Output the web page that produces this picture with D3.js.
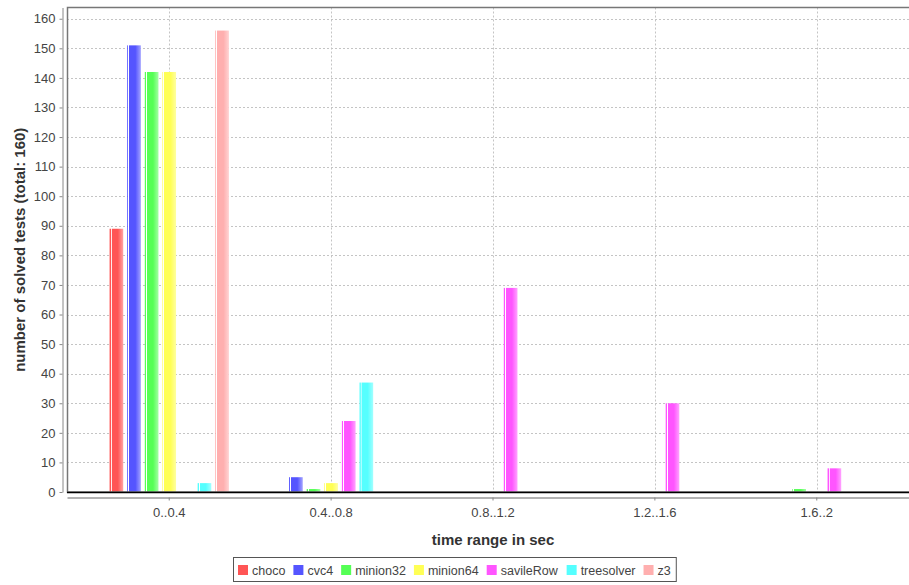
<!DOCTYPE html>
<html>
<head>
<meta charset="utf-8">
<script src="https://d3js.org/d3.v7.min.js"></script>
<style>
  body { margin: 0; background: #fff; }
  text { font-family: "Liberation Sans", Arial, sans-serif; }
</style>
</head>
<body>
<script>
// data
var categories = ["0..0.4", "0.4..0.8", "0.8..1.2", "1.2..1.6", "1.6..2"];
var solvers = ["choco", "cvc4", "minion32", "minion64", "savileRow", "treesolver", "z3"];
var colors = ["#ff5555", "#5555ff", "#55ff55", "#ffff55", "#ff55ff", "#55ffff", "#ffafaf"];
var choco      = [89, 0, 0, 0, 0];
var cvc4       = [151, 5, 0, 0, 0];
var minion32   = [142, 1, 0, 0, 1];
var minion64   = [142, 3, 0, 0, 0];
var savileRow  = [0, 24, 69, 30, 8];
var treesolver = [3, 37, 0, 0, 0];
var z3         = [156, 0, 0, 0, 0];
var yTicks = [0, 10, 20, 30, 40, 50, 60, 70, 80, 90, 100, 110, 120, 130, 140, 150, 160];

var series = [choco, cvc4, minion32, minion64, savileRow, treesolver, z3];

var W = 909, H = 585;
var plot = {left: 67, right: 919, top: 7.5, bottom: 492};

var svg = d3.select("body").append("svg")
    .attr("width", W)
    .attr("height", H);

// bar gradients (shaded bar look)
var defs = svg.append("defs");
colors.forEach(function(c, i) {
    var g = defs.append("linearGradient").attr("id", "grad" + i)
        .attr("x1", 0).attr("x2", 1).attr("y1", 0).attr("y2", 0);
    var light = d3.interpolateRgb(c, "#ffffff")(0.4);
    [[0, c], [0.07, c], [0.08, "#ffffff"], [0.14, "#ffffff"], [0.15, c],
     [0.6, c], [0.95, light], [1, light]].forEach(function(s) {
        g.append("stop").attr("offset", s[0]).attr("stop-color", s[1]);
    });
});

var x = d3.scaleBand()
    .domain(categories)
    .range([plot.left, plot.right])
    .paddingInner(0.263)
    .paddingOuter(0.263);

var xs = d3.scaleBand()
    .domain(d3.range(solvers.length))
    .range([0, x.bandwidth()])
    .paddingInner(0.226);

var y = d3.scaleLinear()
    .domain([0, 163.8])
    .range([plot.bottom, plot.top]);

defs.append("clipPath").attr("id", "plotclip")
    .append("rect")
    .attr("x", plot.left).attr("y", plot.top)
    .attr("width", W - plot.left).attr("height", plot.bottom - plot.top);

var plotG = svg.append("g").attr("clip-path", "url(#plotclip)");

// gridlines
plotG.append("g").selectAll("line")
    .data(yTicks)
    .enter().append("line")
    .attr("x1", plot.left).attr("x2", W)
    .attr("y1", function(d) { return Math.round(y(d)) + 0.5; })
    .attr("y2", function(d) { return Math.round(y(d)) + 0.5; })
    .attr("stroke", "#c4c4c4")
    .attr("stroke-dasharray", "2,2");

plotG.append("g").selectAll("line")
    .data(categories)
    .enter().append("line")
    .attr("x1", function(d) { return Math.round(x(d) + x.bandwidth() / 2) + 0.5; })
    .attr("x2", function(d) { return Math.round(x(d) + x.bandwidth() / 2) + 0.5; })
    .attr("y1", plot.top).attr("y2", plot.bottom)
    .attr("stroke", "#c4c4c4")
    .attr("stroke-dasharray", "2,2");

// bars
series.forEach(function(vals, si) {
    plotG.append("g").selectAll("rect")
        .data(vals.map(function(v, ci) { return {cat: categories[ci], v: v}; })
                  .filter(function(d) { return d.v > 0; }))
        .enter().append("rect")
        .attr("x", function(d) { return x(d.cat) + xs(si); })
        .attr("width", xs.bandwidth())
        .attr("y", function(d) { return y(d.v); })
        .attr("height", function(d) { return plot.bottom - y(d.v); })
        .attr("fill", "url(#grad" + si + ")");
});

// plot frame
svg.append("rect")
    .attr("x", plot.left + 0.5).attr("y", plot.top)
    .attr("width", plot.right - plot.left).attr("height", plot.bottom - plot.top)
    .attr("fill", "none")
    .attr("stroke", "#777")
    .attr("stroke-width", 1.5);
svg.append("line")
    .attr("x1", plot.left).attr("x2", W)
    .attr("y1", plot.bottom + 0.5).attr("y2", plot.bottom + 0.5)
    .attr("stroke", "#000").attr("stroke-width", 1.5);

// y axis
var yAxis = svg.append("g")
    .attr("transform", "translate(62.5,0)")
    .call(d3.axisLeft(y).tickValues(yTicks).tickSize(3).tickSizeOuter(0).tickPadding(4));
yAxis.select(".domain").attr("stroke", "#888");
yAxis.selectAll(".tick line").attr("stroke", "#888");
yAxis.selectAll("text").attr("fill", "#444").style("font-size", "13px")
    .style("font-family", "'Liberation Sans', Arial, sans-serif");

// x axis
var xAxis = svg.append("g")
    .attr("transform", "translate(0,497.5)")
    .call(d3.axisBottom(x).tickSize(3).tickSizeOuter(0).tickPadding(7));
xAxis.select(".domain").attr("stroke", "#999").attr("stroke-width", 1.5);
xAxis.selectAll(".tick line").attr("stroke", "#888");
xAxis.selectAll("text").attr("fill", "#444").style("font-size", "13px")
    .style("font-family", "'Liberation Sans', Arial, sans-serif");

// axis titles
svg.append("text")
    .attr("x", (plot.left + plot.right) / 2)
    .attr("y", 545)
    .attr("text-anchor", "middle")
    .style("font-size", "15px")
    .style("font-weight", "bold")
    .attr("fill", "#333")
    .text("time range in sec");

svg.append("text")
    .attr("transform", "translate(25," + ((plot.top + plot.bottom) / 2) + ") rotate(-90)")
    .attr("text-anchor", "middle")
    .style("font-size", "15px")
    .style("font-weight", "bold")
    .attr("fill", "#333")
    .text("number of solved tests (total: 160)");

// legend
var legendBox = svg.append("rect");
var legend = svg.append("g");
var items = legend.selectAll("g")
    .data(solvers)
    .enter().append("g");
items.append("rect")
    .attr("width", 10).attr("height", 10)
    .attr("y", -5)
    .attr("fill", function(d, i) { return colors[i]; });
items.append("text")
    .attr("x", 14)
    .attr("dy", "0.36em")
    .attr("fill", "#444")
    .style("font-size", "12.5px")
    .text(function(d) { return d; });

var pos = 0;
items.each(function() {
    var w = this.getBBox().width;
    d3.select(this).attr("transform", "translate(" + pos + ",0)");
    pos += w + 8;
});
var legendW = pos - 8 + 10;
var lx = Math.round(W / 2 - legendW / 2);
legend.attr("transform", "translate(" + (lx + 5) + ",570)");
legendBox
    .attr("x", lx + 0.5).attr("y", 557.5)
    .attr("width", legendW).attr("height", 24)
    .attr("fill", "#fff")
    .attr("stroke", "#555");
</script>
</body>
</html>
